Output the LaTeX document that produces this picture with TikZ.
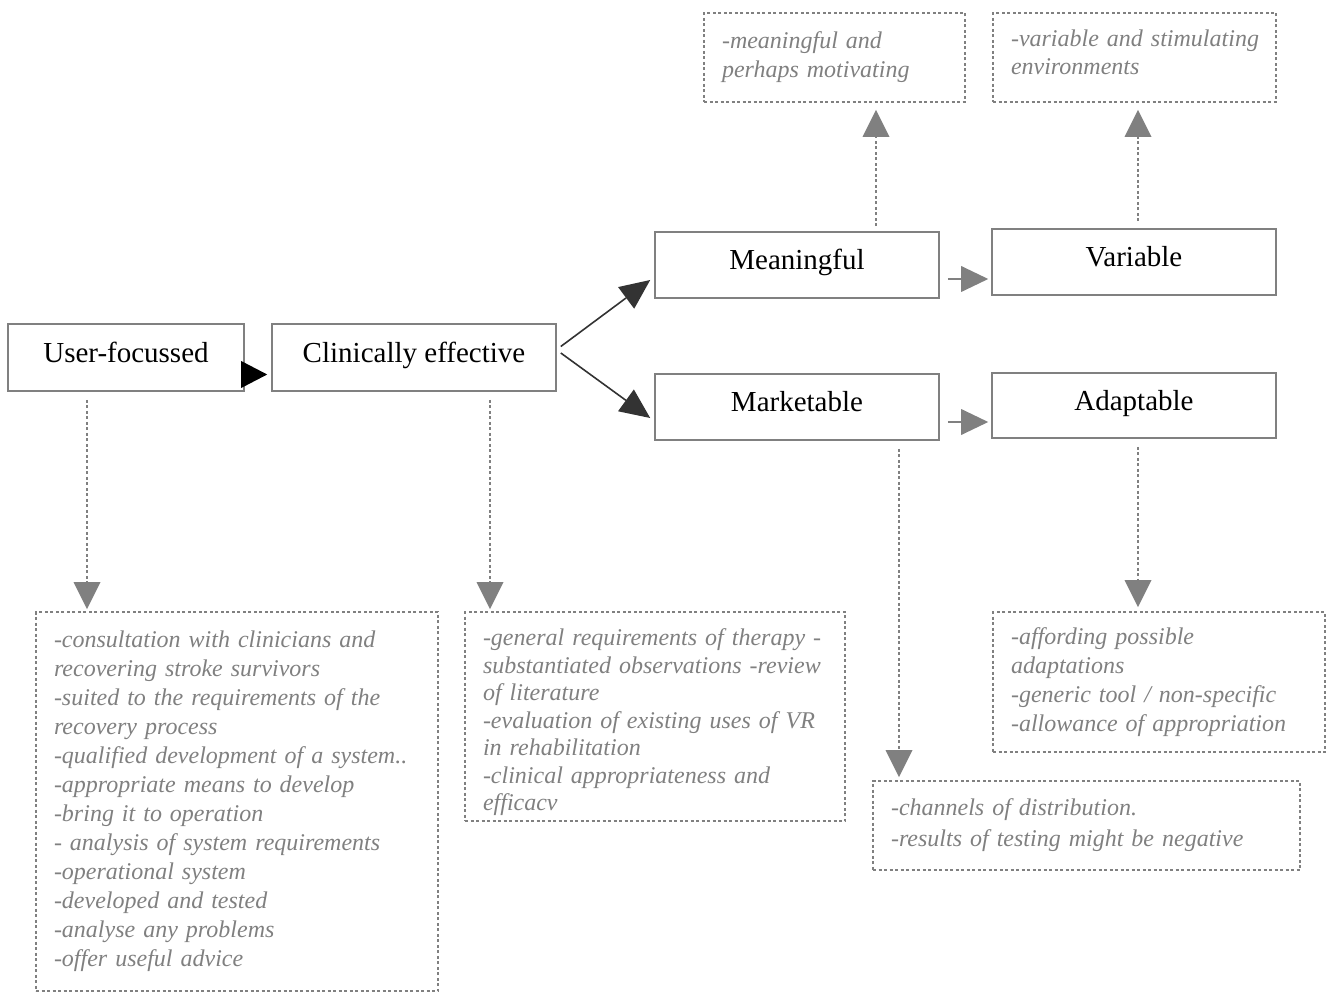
\documentclass[tikz,border=0pt]{standalone}
\usepackage{fontspec}
\setmainfont{Liberation Serif}
\usetikzlibrary{arrows.meta}
\definecolor{boxline}{RGB}{128,128,128}
\definecolor{notegray}{RGB}{128,128,128}
\definecolor{darkarrow}{RGB}{51,51,51}
\begin{document}
\begin{tikzpicture}[x=1pt,y=-1pt,
  mainbox/.style={draw=boxline,line width=1.6pt,minimum width=284pt,minimum height=66pt,
    inner sep=0pt,text height=21pt,text depth=12pt,font=\fontsize{29}{33}\selectfont},
  notebox/.style={draw=boxline,line width=1.8pt,dash pattern=on 3pt off 2.5pt,
    inner xsep=18pt,inner ysep=0pt,align=left,text=notegray,
    font=\fontsize{24}{29}\selectfont\itshape},
  dotarrow/.style={draw=boxline,line width=2.5pt,dash pattern=on 3pt off 2.5pt,
    -{Triangle[length=27pt,width=27pt,fill=boxline,line width=0pt]}},
  grayarrow/.style={draw=boxline,line width=2pt,
    -{Triangle[length=27pt,width=26pt,fill=boxline,line width=0pt]}},
  darkarr/.style={draw=darkarrow,line width=1.6pt,
    -{Triangle[length=30pt,width=27pt,fill=darkarrow,line width=0pt]}},
  blackarr/.style={draw=black,line width=1pt,
    -{Triangle[length=26pt,width=27pt,fill=black,line width=0pt]}}]
\useasboundingbox (0,0) rectangle (1328,992);

% main concept boxes
\node[mainbox,minimum width=236pt,minimum height=67pt] (UF) at (126,357.5) {User-focussed};
\node[mainbox,minimum height=67pt] (CE) at (414,357.5) {Clinically effective};
\node[mainbox] (ME) at (797,265) {Meaningful};
\node[mainbox] (MA) at (797,407) {Marketable};
\node[mainbox] (VA) at (1134,262) {Variable};
\node[mainbox,minimum height=65pt] (AD) at (1134,405.5) {Adaptable};

% note boxes
\node[notebox,text width=366pt,minimum height=379pt] (UFn) at (237,801.5)
 {-consultation with clinicians and\\recovering stroke survivors\\-suited to the requirements of the\\recovery process\\-qualified development of a system..\\-appropriate means to develop\\-bring it to operation\\- analysis of system requirements\\-operational system\\-developed and tested\\-analyse any problems\\-offer useful advice};
\node[notebox,text width=344pt,minimum height=209pt,font=\fontsize{24}{27.5}\selectfont\itshape] (CEn) at (655,716.5)
 {\rule{0pt}{28.5pt}-general requirements of therapy -\\substantiated observations -review\\of literature\\-evaluation of existing uses of VR\\in rehabilitation\\-clinical appropriateness and\\efficacv};
\node[notebox,text width=391pt,minimum height=89pt,font=\fontsize{24}{31}\selectfont\itshape] (MAn) at (1086.5,825.5)
 {-channels of distribution.\\-results of testing might be negative};
\node[notebox,text width=296pt,minimum height=140pt] (ADn) at (1159,682)
 {-affording possible\\adaptations\\-generic tool / non-specific\\-allowance of appropriation};
\node[notebox,text width=225pt,minimum height=89pt] (MEn) at (834.5,57.5)
 {-meaningful and\\perhaps motivating};
\node[notebox,text width=247pt,minimum height=89pt,font=\fontsize{24}{28}\selectfont\itshape] (VAn) at (1134.5,57.5)
 {\mbox{-variable and stimulating}\\environments\rule[-11pt]{0pt}{11pt}};

% flow between concepts
\draw[blackarr] ([yshift=-17pt]UF.east) -- ([xshift=-4pt,yshift=-17pt]CE.west);
\draw[darkarr] ([xshift=4pt,yshift=11pt]CE.east) -- ([xshift=-4pt,yshift=-15pt]ME.west);
\draw[darkarr] ([xshift=4pt,yshift=4.5pt]CE.east) -- ([xshift=-4pt,yshift=-11pt]MA.west);
\draw[grayarrow] ([xshift=8pt,yshift=-14pt]ME.east) -- ([xshift=-3pt,yshift=-17pt]VA.west);
\draw[grayarrow] ([xshift=8pt,yshift=-15pt]MA.east) -- ([xshift=-3pt,yshift=-16.5pt]AD.west);

% links to the notes
\draw[dotarrow] ([xshift=-39pt,yshift=-8pt]UF.south) -- ([xshift=-150pt,yshift=2pt]UFn.north);
\draw[dotarrow] ([xshift=76pt,yshift=-8pt]CE.south) -- ([xshift=-165pt,yshift=2pt]CEn.north);
\draw[dotarrow] ([xshift=102pt,yshift=-8pt]MA.south) -- ([xshift=-187.5pt,yshift=3pt]MAn.north);
\draw[dotarrow] ([xshift=4pt,yshift=-8pt]AD.south) -- ([xshift=-21pt,yshift=4pt]ADn.north);
\draw[dotarrow] ([xshift=79pt,yshift=5pt]ME.north) -- ([xshift=41.5pt,yshift=-7pt]MEn.south);
\draw[dotarrow] ([xshift=4pt,yshift=7pt]VA.north) -- ([xshift=3.5pt,yshift=-7pt]VAn.south);
\end{tikzpicture}
\end{document}
